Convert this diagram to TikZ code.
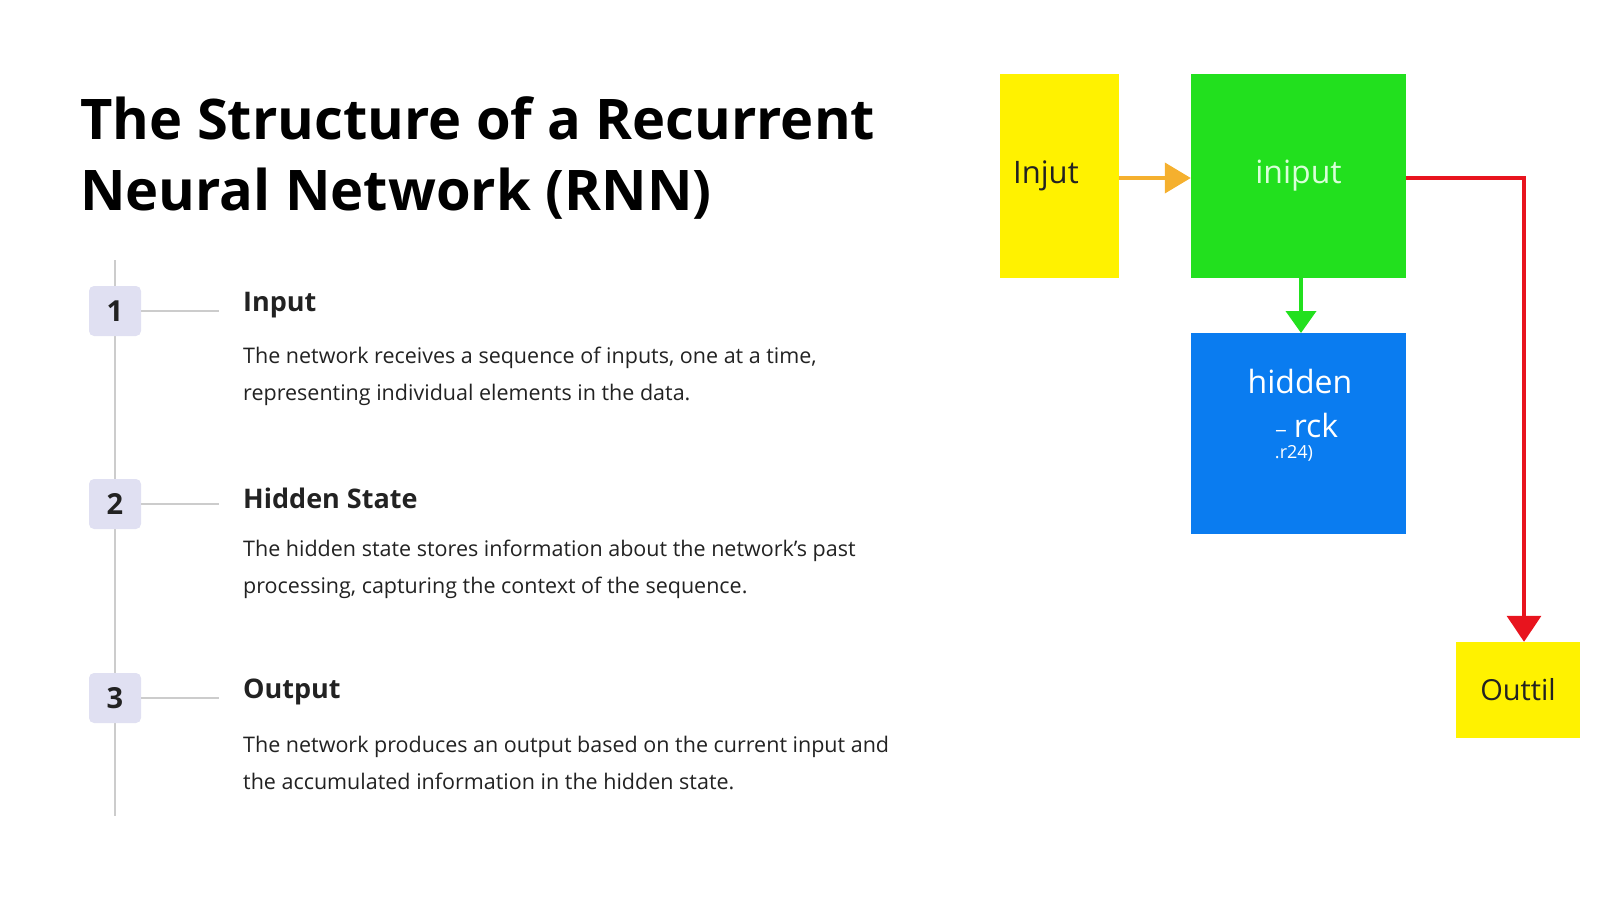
\documentclass[tikz,border=0pt]{standalone}
\usepackage{fontspec}
\setmainfont{Open Sans}
\usetikzlibrary{arrows.meta}
\definecolor{yel}{HTML}{FFF200}
\definecolor{grn}{HTML}{22E01E}
\definecolor{blu}{HTML}{0A7CF0}
\definecolor{red}{HTML}{E8141E}
\definecolor{org}{HTML}{F5B02E}
\definecolor{numbg}{HTML}{E0E0F2}
\definecolor{txt}{HTML}{222222}
\begin{document}
\begin{tikzpicture}[x=1pt,y=-1pt,
  num/.style={fill=numbg,rounded corners=5pt,minimum width=52,minimum height=50,inner sep=0,font=\fontsize{29}{29}\selectfont\bfseries,text=txt},
  head/.style={anchor=west,font=\fontsize{27}{32}\selectfont\bfseries,text=txt,inner sep=0},
  body/.style={anchor=west,font=\fontsize{21.5}{37}\selectfont,text=txt,inner sep=0,align=left},
  tl/.style={draw=black!20,line width=1.5pt}]
\useasboundingbox (0,0) rectangle (1600,900);
\node[anchor=west,inner sep=0,font=\fontsize{56}{71}\selectfont\bfseries,align=left,text=black] (title) at (80,158) {The Structure of a Recurrent\\Neural Network (RNN)};
\coordinate (tt) at (115,260); \coordinate (tb) at (115,816);
\draw[tl] (tt) -- (tb);
\foreach \i/\y/\h/\a/\b in {1/311/Input/{The network receives a sequence of inputs, one at a time,}/{representing individual elements in the data.},
 2/504/Hidden State/{The hidden state stores information about the network's past}/{processing, capturing the context of the sequence.},
 3/698/Output/{The network produces an output based on the current input and}/{the accumulated information in the hidden state.}}{
  \node[num] (n\i) at (115,\y) {\i};
  \coordinate (e\i) at (219,\y);
  \draw[tl] (n\i.east) -- (e\i);
  \node[head] (h\i) at (243,\y-6) {\h};
  \node[body] (b\i) at (243,\y+65) {\a\\\b};
}
\node[fill=yel,minimum width=119,minimum height=204,inner sep=0] (inj) at (1059.5,176) {};
\node[anchor=west,inner sep=0,font=\fontsize{31}{31}\selectfont,text=txt] (injt) at (1013,176) {Injut};
\node[fill=grn,minimum width=215,minimum height=204,inner sep=0,font=\fontsize{32}{32}\selectfont,text=green!15] (inp) at (1298.5,176) {iniput};
\node[fill=blu,minimum width=215,minimum height=201,inner sep=0] (hid) at (1298.5,433.5) {};
\node[font=\fontsize{32}{32}\selectfont,text=white] (h1) at (1300,381) {hidden};
\node[font=\fontsize{32}{32}\selectfont,text=white] (h2) at (1316,425) {rck};
\node[font=\fontsize{22}{22}\selectfont,text=white,inner sep=0] (h2b) at (1281,430) {\_};
\node[font=\fontsize{18}{18}\selectfont,text=white] (h3) at (1294,453) {.r24)};
\node[fill=yel,minimum width=124,minimum height=96,inner sep=0,font=\fontsize{29}{29}\selectfont,text=txt] (out) at (1518,690) {Outtil};
\draw[org,line width=4pt,-{Triangle[length=26pt,width=30pt]}] (inj.east |- 0,178) -- (inp.west |- 0,178);
\draw[grn,line width=4pt,-{Triangle[length=22pt,width=30pt]}] (1301,278) -- (1301,333);
\coordinate (rc) at (1524,178);
\draw[red,line width=3.5pt,-{Triangle[length=26pt,width=34pt]}] (inp.east |- 0,178) -- (rc) -- (rc |- out.north);
\end{tikzpicture}
\end{document}
